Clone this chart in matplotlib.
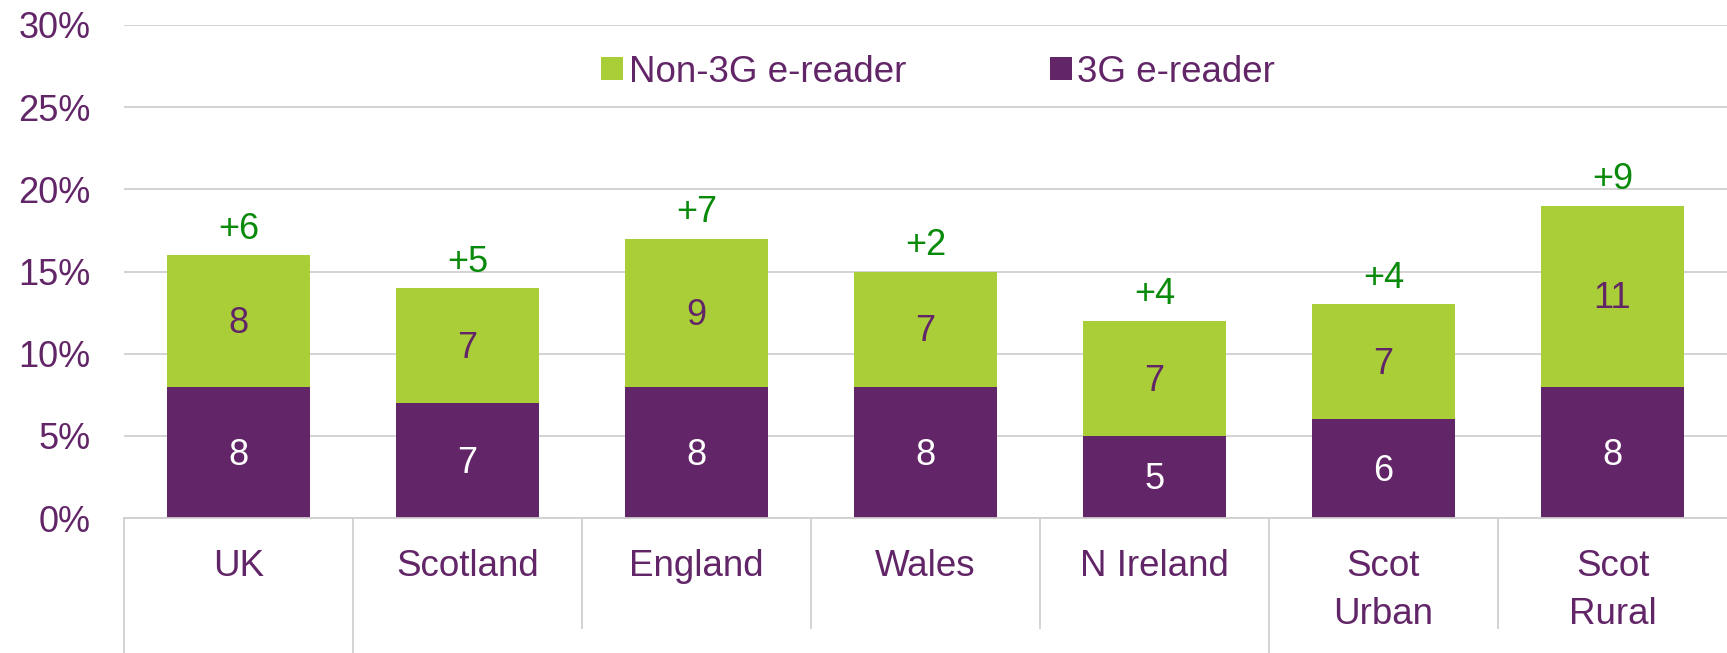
import matplotlib
matplotlib.use("Agg")
import matplotlib.pyplot as plt
import numpy as np
from matplotlib.transforms import blended_transform_factory

plt.rcParams['font.family'] = ['Liberation Sans', 'DejaVu Sans']

categories = ["UK", "Scotland", "England", "Wales", "N Ireland", "Scot\nUrban", "Scot\nRural"]
three_g = [8, 7, 8, 8, 5, 6, 8]
non_three_g = [8, 7, 9, 7, 7, 7, 11]
change_labels = ["+6", "+5", "+7", "+2", "+4", "+4", "+9"]
y_ticks = [0, 5, 10, 15, 20, 25, 30]
y_tick_labels = ["0%", "5%", "10%", "15%", "20%", "25%", "30%"]

PURPLE = "#622567"
GREEN = "#A9CE38"
TEXT_GREEN = "#0A8A0A"
GRID = "#D0D0D0"

fig = plt.figure(figsize=(17.27, 6.53), dpi=100)
ax = fig.add_axes([124/1727, (653-518)/653, 1 - 124/1727, (518-25)/653])

x = np.arange(len(categories))
w = 0.625
b1 = ax.bar(x, three_g, width=w, color=PURPLE, label="3G e-reader", zorder=3)
b2 = ax.bar(x, non_three_g, width=w, bottom=three_g, color=GREEN, label="Non-3G e-reader", zorder=3)

fs = 26
for i in range(len(categories)):
    ax.annotate(str(three_g[i]), (x[i], three_g[i] / 2), xytext=(0, -2),
                textcoords="offset points", ha="center", va="center",
                color="white", fontsize=fs, zorder=4)
    ax.annotate(str(non_three_g[i]), (x[i], three_g[i] + non_three_g[i] / 2),
                xytext=(0, -2), textcoords="offset points", ha="center",
                va="center", color=PURPLE, fontsize=fs, zorder=4)
    ax.annotate(change_labels[i], (x[i], three_g[i] + non_three_g[i]),
                xytext=(0, 6), textcoords="offset points", ha="center", va="bottom",
                color=TEXT_GREEN, fontsize=fs, zorder=4)

ax.set_xlim(-0.5, len(categories) - 0.5)
ax.set_ylim(0, 30)
ax.set_yticks(y_ticks)
ax.set_yticklabels(y_tick_labels)
ax.set_xticks(x)
ax.set_xticklabels(categories, linespacing=1.48)
ax.tick_params(axis="y", length=0, pad=24, labelsize=fs, labelcolor=PURPLE)
ax.tick_params(axis="x", length=0, pad=22, labelsize=26.5, labelcolor=PURPLE)
for lab in ax.get_xticklabels():
    lab.set_verticalalignment("top")

ax.grid(axis="y", color=GRID, linewidth=1.3, zorder=0)
for s in ["top", "right", "left"]:
    ax.spines[s].set_visible(False)
ax.spines["bottom"].set_color(GRID)
ax.spines["bottom"].set_linewidth(1.3)
ax.spines["bottom"].set_zorder(5)

# category separators below the axis
trans = blended_transform_factory(ax.transData, ax.transAxes)
long_bottom = -(653 - 518) / 493
short_bottom = -(628 - 518) / 493
bounds = np.arange(len(categories) + 1) - 0.5
long_idx = {0, 1, 5}
for k, bx in enumerate(bounds[:-1]):
    yb = long_bottom if k in long_idx else short_bottom
    ax.plot([bx, bx], [0, yb], transform=trans, color=GRID, linewidth=1.3, clip_on=False)

handles = [b2, b1]
leg = fig.legend(handles, [h.get_label() for h in handles], loc="center",
                 bbox_to_anchor=(938/1727, 1 - 72/653), ncol=2, frameon=False,
                 fontsize=26.5, handlelength=0.6, handleheight=0.6, handletextpad=0.15,
                 columnspacing=3.9)
for t in leg.get_texts():
    t.set_color(PURPLE)

fig.savefig("out.png", dpi=100)
